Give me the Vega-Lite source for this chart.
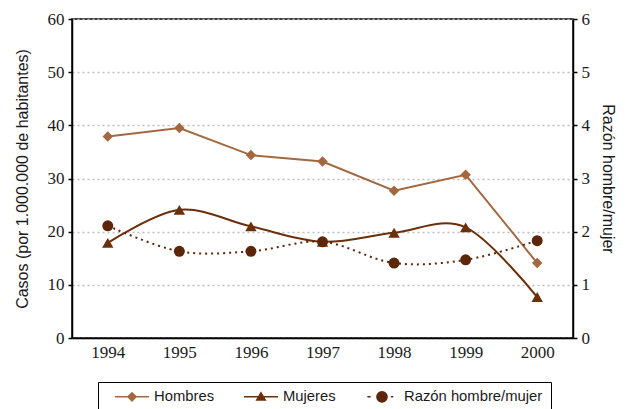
{
  "$schema": "https://vega.github.io/schema/vega-lite/v6.json",
  "width": 501,
  "height": 319,
  "autosize": {"type": "none"},
  "padding": {"left": 72, "top": 19, "right": 53, "bottom": 71},
  "background": "white",
  "datasets": {
    "rows": [
      {"year": "1994", "serie": "Hombres", "valor": 37.9},
      {"year": "1995", "serie": "Hombres", "valor": 39.5},
      {"year": "1996", "serie": "Hombres", "valor": 34.4},
      {"year": "1997", "serie": "Hombres", "valor": 33.2},
      {"year": "1998", "serie": "Hombres", "valor": 27.7},
      {"year": "1999", "serie": "Hombres", "valor": 30.7},
      {"year": "2000", "serie": "Hombres", "valor": 14.1},
      {"year": "1994", "serie": "Mujeres", "valor": 17.9},
      {"year": "1995", "serie": "Mujeres", "valor": 24.1},
      {"year": "1996", "serie": "Mujeres", "valor": 21.0},
      {"year": "1997", "serie": "Mujeres", "valor": 18.1},
      {"year": "1998", "serie": "Mujeres", "valor": 19.8},
      {"year": "1999", "serie": "Mujeres", "valor": 20.8},
      {"year": "2000", "serie": "Mujeres", "valor": 7.7},
      {"year": "1994", "serie": "Razón hombre/mujer", "valor": 2.11},
      {"year": "1995", "serie": "Razón hombre/mujer", "valor": 1.63},
      {"year": "1996", "serie": "Razón hombre/mujer", "valor": 1.63},
      {"year": "1997", "serie": "Razón hombre/mujer", "valor": 1.81},
      {"year": "1998", "serie": "Razón hombre/mujer", "valor": 1.41},
      {"year": "1999", "serie": "Razón hombre/mujer", "valor": 1.47},
      {"year": "2000", "serie": "Razón hombre/mujer", "valor": 1.83}
    ]
  },
  "data": {"name": "rows"},
  "layer": [
    {
      "layer": [
        {
          "transform": [{"filter": "datum.serie === 'Hombres'"}],
          "mark": {"type": "line", "color": "#A3683F", "strokeWidth": 2, "interpolate": "linear",
                   "point": {"shape": "diamond", "size": 110, "filled": true, "color": "#A3683F"}},
          "encoding": {
            "x": {"field": "year", "type": "ordinal", "scale": {"type": "point", "padding": 0.5},
                  "axis": {"title": null, "labelAngle": 0, "ticks": false, "labelPadding": 6, "grid": false}},
            "y": {"field": "valor", "type": "quantitative", "scale": {"domain": [0, 60], "nice": false, "zero": true},
                  "axis": {"title": "Casos (por 1.000.000 de habitantes)", "values": [0, 10, 20, 30, 40, 50, 60],
                           "grid": true, "gridColor": "#bdbdbd", "gridDash": [2, 3], "gridWidth": 1.5,
                           "titlePadding": 17, "labelPadding": 4}}
          }
        },
        {
          "transform": [{"filter": "datum.serie === 'Mujeres'"}],
          "mark": {"type": "line", "color": "#6B2F0C", "strokeWidth": 2, "interpolate": "cardinal",
                   "point": {"shape": "triangle-up", "size": 130, "filled": true, "color": "#6B2F0C"}},
          "encoding": {
            "x": {"field": "year", "type": "ordinal"},
            "y": {"field": "valor", "type": "quantitative"}
          }
        },
        {
          "mark": {"type": "point", "opacity": 0, "strokeWidth": 1.5},
          "encoding": {
            "x": {"field": "year", "type": "ordinal"},
            "y": {"field": "valor", "type": "quantitative"},
            "fill": {"field": "serie", "type": "nominal",
                     "scale": {"domain": ["Hombres", "Mujeres", "Razón hombre/mujer"], "range": ["#A3683F", "#6B2F0C", "#5C260A"]}},
            "stroke": {"field": "serie", "type": "nominal",
                       "scale": {"domain": ["Hombres", "Mujeres", "Razón hombre/mujer"], "range": ["#A3683F", "#6B2F0C", "#5C260A"]}},
            "shape": {"field": "serie", "type": "nominal",
                      "scale": {"domain": ["Hombres", "Mujeres", "Razón hombre/mujer"],
                                "range": ["M-1,0H1M-0.24,0L0,-0.24L0.24,0L0,0.24Z",
                                          "M-1,0H1M0,-0.24L0.25,0.19L-0.25,0.19Z",
                                          "M-0.86,0H-0.67M0.52,0H0.66M-0.3,0A0.3,0.3 0 1,1 0.3,0A0.3,0.3 0 1,1 -0.3,0Z"]},
                      "legend": {"title": null, "orient": "none", "legendX": 26, "legendY": 363, "direction": "horizontal",
                                 "columns": 3,
                                 "labelExpr": "datum.label == 'Razón hombre/mujer' ? datum.label + '    ' : datum.label",
                                 "strokeColor": "black", "padding": 8, "columnPadding": 20,
                                 "labelFont": "Liberation Sans", "labelFontSize": 14.8, "labelColor": "#1a1a1a",
                                 "labelOffset": 4, "symbolOffset": 8, "clipHeight": 13,
                                 "symbolSize": 1156, "symbolStrokeWidth": 1.5, "symbolOpacity": 1,
                                 "encode": {"symbols": {"update": {"opacity": {"value": 1}}}}}}
          }
        }
      ]
    },
    {
      "transform": [{"filter": "datum.serie === 'Razón hombre/mujer'"}],
      "mark": {"type": "line", "color": "#5C260A", "strokeWidth": 2, "strokeDash": [2, 4], "interpolate": "cardinal",
               "point": {"shape": "circle", "size": 120, "filled": true, "color": "#5C260A", "opacity": 1}},
      "encoding": {
        "x": {"field": "year", "type": "ordinal"},
        "y": {"field": "valor", "type": "quantitative", "scale": {"domain": [0, 6], "nice": false},
              "axis": {"orient": "right", "title": "Razón hombre/mujer", "values": [0, 1, 2, 3, 4, 5, 6], "grid": false,
                       "titlePadding": 10, "labelPadding": 4}}
      }
    }
  ],
  "resolve": {"scale": {"y": "independent"}},
  "config": {
    "view": {"stroke": "black", "strokeWidth": 1.5},
    "axis": {"labelFont": "Liberation Sans Narrow", "labelFontSize": 17, "labelColor": "#1a1a1a",
             "titleFont": "Liberation Sans", "titleFontSize": 16, "titleFontWeight": "normal", "titleColor": "#1a1a1a",
             "domainColor": "black", "domainWidth": 1.5, "tickColor": "black", "tickWidth": 1.5, "tickSize": 4}
  }
}
